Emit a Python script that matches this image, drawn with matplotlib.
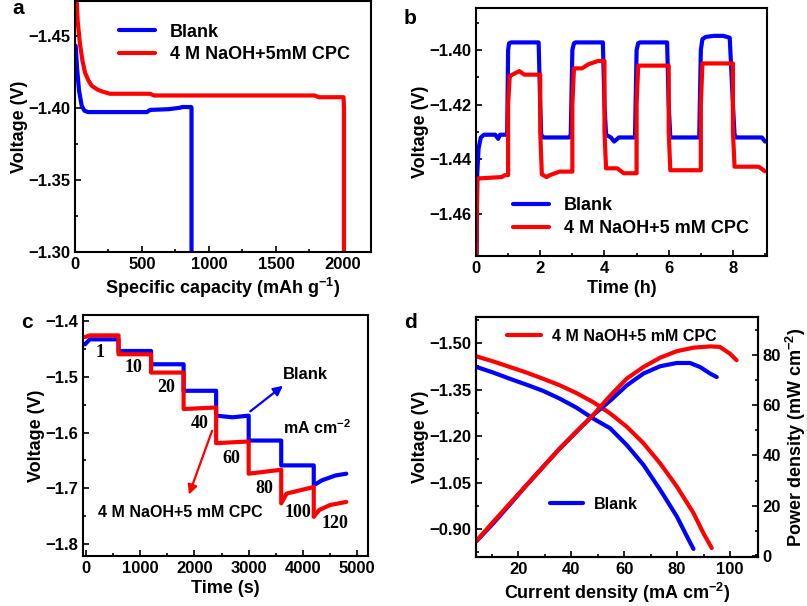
import numpy as np
import matplotlib
matplotlib.use('Agg')
import matplotlib.pyplot as plt
from matplotlib.lines import Line2D
from matplotlib.ticker import MultipleLocator, FuncFormatter

plt.rcParams['font.family'] = ['Liberation Sans', 'DejaVu Sans']
plt.rcParams['font.weight'] = 'bold'
plt.rcParams['axes.labelweight'] = 'bold'
plt.rcParams['mathtext.fontset'] = 'custom'
plt.rcParams['mathtext.rm'] = 'Liberation Sans:bold'
plt.rcParams['mathtext.bf'] = 'Liberation Sans:bold'
plt.rcParams['mathtext.default'] = 'bf'
plt.rcParams['lines.solid_capstyle'] = 'round'
plt.rcParams['lines.solid_joinstyle'] = 'round'

BLUE = '#0000ff'
RED = '#ff0000'

# ---- (a) discharge curves
a_blank_cap = [5, 15, 30, 50, 70, 97, 200, 400, 537, 560, 700, 784, 800, 868, 870, 870]
a_blank_v = [-1.443, -1.428, -1.412, -1.4014, -1.398, -1.397, -1.397, -1.397, -1.397,
             -1.3985, -1.399, -1.400, -1.4005, -1.4005, -1.40, -1.29]
a_cpc_cap = [10, 20, 37, 55, 75, 100, 124, 170, 211, 261, 400, 560, 590, 1000, 1790, 1820,
             2005, 2008, 2008]
a_cpc_v = [-1.48, -1.46, -1.4444, -1.433, -1.4243, -1.419, -1.4153, -1.4125, -1.411,
           -1.4097, -1.4097, -1.4097, -1.4085, -1.4085, -1.4085, -1.4073, -1.4073, -1.40, -1.29]

# ---- (b) intermittent discharge
b_blank_t = [0.0, 0.02, 0.04, 0.08, 0.15, 0.25, 0.6, 0.69, 0.75, 0.97, 1.0, 1.03, 1.1,
             1.95, 2.0, 2.03, 2.1, 2.9, 2.95, 3.0, 3.05, 3.1, 3.95, 4.0, 4.05, 4.2, 4.3,
             4.45, 4.95, 5.0, 5.05, 5.1, 5.95, 6.0, 6.05, 6.95, 7.0, 7.05, 7.15, 7.4, 7.7,
             7.9, 8.0, 8.05, 8.1, 8.9, 9.0]
b_blank_v = [-1.48, -1.475, -1.445, -1.436, -1.432, -1.431, -1.431, -1.4325, -1.431,
             -1.431, -1.40, -1.3975, -1.3972, -1.3972, -1.42, -1.431, -1.432, -1.432,
             -1.431, -1.40, -1.3975, -1.3972, -1.3972, -1.42, -1.431, -1.432, -1.4335,
             -1.432, -1.432, -1.40, -1.3975, -1.3972, -1.3972, -1.42, -1.432, -1.432,
             -1.40, -1.396, -1.3952, -1.3948, -1.3948, -1.3955, -1.42, -1.431, -1.432,
             -1.432, -1.4335]
b_cpc_t = [0.0, 0.02, 0.04, 0.08, 0.8, 0.9, 1.0, 1.0, 1.05, 1.1, 1.35, 1.5, 2.0, 2.0,
           2.05, 2.2, 2.3, 2.6, 3.0, 3.0, 3.05, 3.3, 3.5, 3.8, 4.0, 4.0, 4.05, 4.4, 4.6,
           5.0, 5.0, 5.05, 6.0, 6.0, 6.05, 7.0, 7.0, 7.05, 8.0, 8.0, 8.05, 8.8, 9.0]
b_cpc_v = [-1.48, -1.465, -1.447, -1.447, -1.4465, -1.4458, -1.4458, -1.42, -1.4095,
           -1.4092, -1.4077, -1.409, -1.409, -1.43, -1.4455, -1.4465, -1.4458, -1.4445,
           -1.4445, -1.42, -1.4067, -1.4067, -1.4052, -1.404, -1.404, -1.43, -1.4433,
           -1.4433, -1.4451, -1.4451, -1.42, -1.4057, -1.4057, -1.43, -1.444, -1.444,
           -1.42, -1.4049, -1.4049, -1.43, -1.4427, -1.4427, -1.4444]

# ---- (c) rate performance
c_blank_t = [-20, 70, 600, 600, 1200, 1200, 1800, 1800, 2400, 2400, 2700, 3000, 3000,
             3600, 3600, 4200, 4200, 4350, 4600, 4800]
c_blank_v = [-1.4417, -1.4327, -1.4327, -1.4536, -1.4536, -1.4774, -1.4774, -1.525,
             -1.525, -1.5696, -1.5726, -1.5696, -1.6143, -1.6143, -1.6589, -1.6589,
             -1.6946, -1.6857, -1.677, -1.6738]
c_cpc_t = [-20, 70, 600, 600, 1200, 1200, 1800, 1800, 2400, 2400, 3000, 3000, 3600, 3600,
           3700, 4200, 4200, 4300, 4500, 4800]
c_cpc_v = [-1.4286, -1.4256, -1.4256, -1.4595, -1.4595, -1.4923, -1.4923, -1.5577,
           -1.555, -1.619, -1.616, -1.6738, -1.6667, -1.727, -1.7095, -1.6976, -1.7512,
           -1.739, -1.730, -1.7244]
c_rates = ['1', '10', '20', '40', '60', '80', '100', '120']
c_rate_x = [258, 867, 1476, 2103, 2675, 3284, 3911, 4594]
c_rate_y = [-1.457, -1.484, -1.520, -1.583, -1.646, -1.700, -1.743, -1.763]

# ---- (d) polarization and power density
d_v_cpc_i = [4.15, 10.44, 16.73, 23.02, 29.31, 35.6, 41.9, 48.2, 54.72, 61.0, 67.3, 73.6,
             79.9, 86.2, 89.9, 93.1]
d_v_cpc = [-1.457, -1.441, -1.423, -1.405, -1.385, -1.364, -1.339, -1.310, -1.273, -1.230,
           -1.177, -1.112, -1.0375, -0.952, -0.888, -0.839]
d_v_blank_i = [4.15, 10.44, 16.73, 23.02, 29.31, 35.6, 41.9, 48.2, 54.72, 61.0, 67.3, 73.6,
               79.9, 83.7, 86.2]
d_v_blank = [-1.423, -1.405, -1.385, -1.366, -1.346, -1.321, -1.292, -1.257, -1.225, -1.171,
             -1.107, -1.027, -0.941, -0.877, -0.836]
d_p_cpc_i = [4.15, 10.44, 16.73, 23.02, 29.31, 35.6, 41.9, 48.2, 54.72, 61.0, 67.3, 73.6,
             79.9, 86.2, 92.5, 96.2, 100.0, 102.5]
d_p_cpc = [5.97, 13.5, 20.8, 28.1, 35.4, 42.7, 49.4, 56.0, 63.8, 70.6, 75.2, 78.9, 81.5,
           82.9, 83.4, 83.2, 80.5, 77.9]
d_p_blank_i = [4.15, 10.44, 16.73, 23.02, 29.31, 35.6, 41.9, 48.2, 54.72, 61.0, 67.3, 73.6,
               79.9, 84.9, 88.7, 92.5, 95.0]
d_p_blank = [5.9, 12.9, 20.4, 28.1, 35.4, 42.7, 49.4, 56.0, 61.8, 67.9, 72.6, 75.5, 76.8,
             76.8, 75.2, 72.6, 71.2]

W, H = 807, 606
fig = plt.figure(figsize=(W / 100, H / 100), dpi=100)

TICK = 12
LAB = 13
LEG = 13


def box(left, top, right, bottom):
    return fig.add_axes([left / W, 1 - bottom / H, (right - left) / W, (bottom - top) / H])


def fmt(n):
    return FuncFormatter(lambda v, p: (('%.' + str(n) + 'f') % v).replace('-', '\u2212'))


def style(ax, right=False):
    ax.tick_params(which='both', direction='in', labelsize=TICK, width=1.2,
                   top=False, right=right)
    ax.tick_params(which='major', length=4.5)
    ax.tick_params(which='minor', length=2.5)
    for s in ax.spines.values():
        s.set_linewidth(1.5)
    for lab in ax.get_xticklabels() + ax.get_yticklabels():
        lab.set_fontweight('bold')


lw = 3.0

# (a)
ax = box(75, 1, 371, 252)
ax.plot(a_blank_cap, a_blank_v, color=BLUE, lw=lw, label='Blank')
ax.plot(a_cpc_cap, a_cpc_v, color=RED, lw=lw, label='4 M NaOH+5mM CPC')
ax.set_xlim(0, 2210)
ax.set_ylim(-1.30, -1.474)
ax.xaxis.set_major_locator(MultipleLocator(500))
ax.xaxis.set_minor_locator(MultipleLocator(250))
ax.yaxis.set_major_locator(MultipleLocator(0.05))
ax.yaxis.set_minor_locator(MultipleLocator(0.025))
ax.yaxis.set_major_formatter(fmt(2))
ax.set_xlabel('Specific capacity (mAh g$^{-1}$)', fontsize=LAB, labelpad=3)
ax.set_ylabel('Voltage (V)', fontsize=LAB, labelpad=0)
ax.legend(loc='upper left', bbox_to_anchor=(0.095, 0.975), frameon=False, fontsize=LEG,
          handlelength=2.0, handletextpad=0.8, labelspacing=0.3)
style(ax)
fig.text(18 / W, 1 - 9 / H, 'a', fontsize=15, fontweight='bold', ha='center', va='center')

# (b)
ax = box(476, 8, 767, 256)
ax.plot(b_blank_t, b_blank_v, color=BLUE, lw=lw, label='Blank')
ax.plot(b_cpc_t, b_cpc_v, color=RED, lw=lw, label='4 M NaOH+5 mM CPC')
ax.set_xlim(0, 9.06)
ax.set_ylim(-1.4754, -1.3846)
ax.xaxis.set_major_locator(MultipleLocator(2))
ax.xaxis.set_minor_locator(MultipleLocator(1))
ax.yaxis.set_major_locator(MultipleLocator(0.02))
ax.yaxis.set_minor_locator(MultipleLocator(0.01))
ax.yaxis.set_major_formatter(fmt(2))
ax.set_xlabel('Time (h)', fontsize=LAB, labelpad=3)
ax.set_ylabel('Voltage (V)', fontsize=LAB, labelpad=0)
ax.legend(loc='lower left', bbox_to_anchor=(0.072, 0.01), frameon=False, fontsize=LEG,
          handlelength=2.0, handletextpad=0.8, labelspacing=0.35)
style(ax)
fig.text(410 / W, 1 - 19 / H, 'b', fontsize=15, fontweight='bold', ha='center', va='center')

# (c)
ax = box(83, 315, 368, 556)
ax.plot(c_blank_t, c_blank_v, color=BLUE, lw=lw)
ax.plot(c_cpc_t, c_cpc_v, color=RED, lw=lw)
for txt, x, y in zip(c_rates, c_rate_x, c_rate_y):
    ax.text(x, y, txt, fontsize=13, fontweight='bold', ha='center', va='center',
            family=['Liberation Serif', 'DejaVu Serif'])
ax.annotate('', xy=(3672, -1.513), xytext=(2989, -1.565),
            arrowprops=dict(arrowstyle='-|>', color=BLUE, lw=1.6, mutation_scale=14))
ax.annotate('', xy=(1882, -1.716), xytext=(2343, -1.592),
            arrowprops=dict(arrowstyle='-|>', color=RED, lw=1.6, mutation_scale=14))
ax.text(4040, -1.495, 'Blank', fontsize=12, ha='center', va='center')
ax.text(4262, -1.592, 'mA cm$^{-2}$', fontsize=11.5, ha='center', va='center')
ax.text(1734, -1.743, '4 M NaOH+5 mM CPC', fontsize=11.5, ha='center', va='center')
ax.set_xlim(-55, 5200)
ax.set_ylim(-1.8215, -1.389)
ax.xaxis.set_major_locator(MultipleLocator(1000))
ax.xaxis.set_minor_locator(MultipleLocator(500))
ax.yaxis.set_major_locator(MultipleLocator(0.1))
ax.yaxis.set_minor_locator(MultipleLocator(0.05))
ax.yaxis.set_major_formatter(fmt(1))
ax.set_xlabel('Time (s)', fontsize=LAB, labelpad=3)
ax.set_ylabel('Voltage (V)', fontsize=LAB, labelpad=0)
style(ax)
fig.text(27 / W, 1 - 322 / H, 'c', fontsize=15, fontweight='bold', ha='center', va='center')

# (d)
ax = box(476, 317, 758, 557)
ax2 = ax.twinx()
ax.plot(d_v_blank_i, d_v_blank, color=BLUE, lw=lw)
ax.plot(d_v_cpc_i, d_v_cpc, color=RED, lw=lw)
ax2.plot(d_p_blank_i, d_p_blank, color=BLUE, lw=lw)
ax2.plot(d_p_cpc_i, d_p_cpc, color=RED, lw=lw)
ax.set_xlim(4, 110.6)
ax.set_ylim(-0.81, -1.584)
ax2.set_ylim(-0.4, 95.1)
ax.xaxis.set_major_locator(MultipleLocator(20))
ax.xaxis.set_minor_locator(MultipleLocator(10))
ax.yaxis.set_major_locator(MultipleLocator(0.15))
ax.yaxis.set_minor_locator(MultipleLocator(0.075))
ax.yaxis.set_major_formatter(fmt(2))
ax2.yaxis.set_major_locator(MultipleLocator(20))
ax2.yaxis.set_minor_locator(MultipleLocator(10))
ax.set_xlabel('Current density (mA cm$^{-2}$)', fontsize=LAB, labelpad=3)
ax.set_ylabel('Voltage (V)', fontsize=LAB, labelpad=0)
ax2.set_ylabel('Power density (mW cm$^{-2}$)', fontsize=LAB, labelpad=2)
style(ax)
style(ax2, right=True)
ax2.tick_params(which='both', left=False)
leg1 = ax2.legend([Line2D([], [], color=RED, lw=lw)], ['4 M NaOH+5 mM CPC'],
                  loc='upper left', bbox_to_anchor=(0.06, 1.01), frameon=False,
                  fontsize=11.5, handlelength=2.1, handletextpad=0.7)
ax2.add_artist(leg1)
ax2.legend([Line2D([], [], color=BLUE, lw=lw)], ['Blank'],
           loc='upper left', bbox_to_anchor=(0.21, 0.31), frameon=False,
           fontsize=11.5, handlelength=2.1, handletextpad=0.7)
fig.text(410 / W, 1 - 323 / H, 'd', fontsize=15, fontweight='bold', ha='center', va='center')

fig.savefig('out.png', dpi=100)
